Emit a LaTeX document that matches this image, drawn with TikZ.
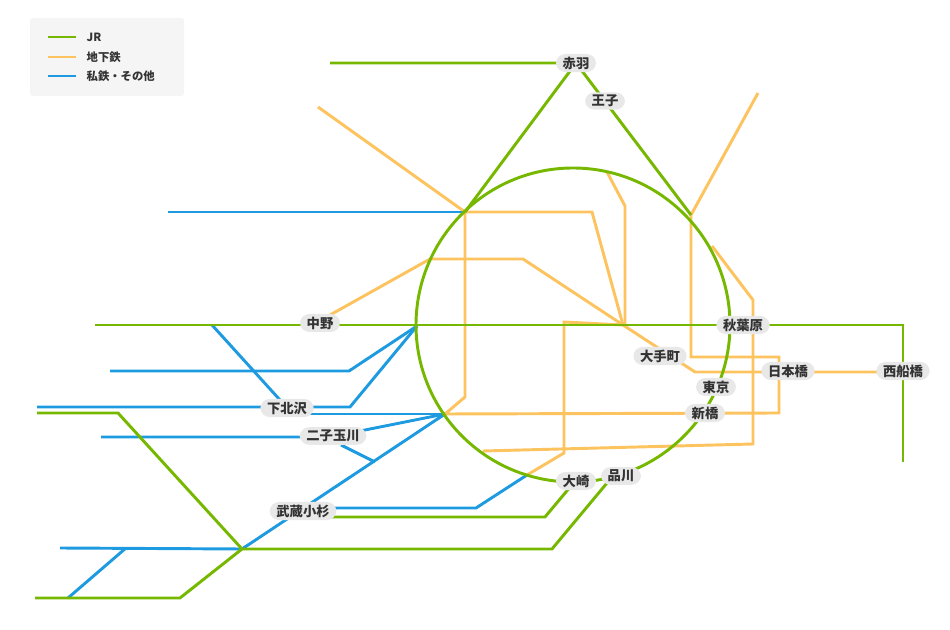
\documentclass[tikz,border=0pt]{standalone}
\usepackage{fontspec}
\setmainfont{Noto Sans CJK JP}
\definecolor{jrgreen}{RGB}{118,184,0}
\definecolor{subway}{RGB}{252,195,95}
\definecolor{private}{RGB}{30,155,224}
\definecolor{legendbg}{RGB}{245,245,245}
\definecolor{tagbg}{RGB}{232,232,232}
\tikzstyle{jrline}=[draw=jrgreen,line width=2.2pt]
\tikzstyle{subline}=[draw=subway,line width=2.2pt,line join=miter]
\tikzstyle{pvline}=[draw=private,line width=2.2pt]
\tikzstyle{station}=[fill=tagbg,rounded corners=7pt,inner xsep=5pt,inner ysep=2pt,font=\fontsize{10}{11}\selectfont\bfseries,text=black!80]
\tikzstyle{legendtext}=[anchor=west,font=\fontsize{8.5}{10}\selectfont\bfseries,text=black!80]

\begin{document}
\begin{tikzpicture}[x=0.75pt,y=-0.75pt]
  \useasboundingbox (0,0) rectangle (950,630);

  % legend
  \fill[legendbg,rounded corners=2pt] (30,18) rectangle (184,96);
  \draw[jrline] (48,37) -- (76,37);
  \draw[subline] (48,57) -- (76,57);
  \draw[pvline] (48,76) -- (76,76);
  \node[legendtext] (lgjr) at (82,37) {JR};
  \node[legendtext] (lgsub) at (82,57) {地下鉄};
  \node[legendtext] (lgpv) at (82,76) {私鉄・その他};

  % junctions
  \coordinate (ike) at (465,212);
  \coordinate (shin) at (417,326);
  \coordinate (shib) at (445,414);
  \coordinate (kawa) at (242,549);
  \coordinate (ota) at (623,325);
  \coordinate (ueno) at (691,215);
  \coordinate (kosugi) at (527,475);

  % subway
  \draw[subline] (318,107) -- (ike) -- (592,212) -- (ota);
  \draw[subline] (ike) -- (465,397) -- (shib) -- (779,413) -- (779,357) -- (691,357) -- (ueno) -- (758,93);
  \draw[subline] (330,315) -- (430,259) -- (523,259) -- (ota);
  \draw[subline] (607,172) -- (625,206) -- (625,325);
  \draw[subline] (ota) -- (695,372) -- (880,372);
  \draw[subline] (712,246) -- (753,300) -- (753,444) -- (483,451);
  \draw[subline] (kosugi) -- (564,453) -- (564,322) -- (ota);

  % private
  \draw[pvline] (168,212) -- (ike);
  \draw[pvline] (212,325) -- (280,400);
  \draw[pvline] (110,371) -- (349,371) -- (shin);
  \draw[pvline] (37,407) -- (350,407) -- (shin);
  \draw[pvline] (290,414) -- (shib);
  \draw[pvline] (101,437) -- (330,437) -- (shib);
  \draw[pvline] (341,445) -- (375,462);
  \draw[pvline] (kawa) -- (shib);
  \draw[pvline] (303,508) -- (476,508) -- (kosugi);
  \draw[pvline] (60,548) -- (kawa);
  \draw[pvline] (68,598) -- (126,548);

  % JR
  \draw[jrline] (573,325) circle[radius=157];
  \draw[jrline] (330,63) -- (576,63) -- (ike);
  \draw[jrline] (576,63) -- (ueno);
  \draw[jrline] (95,325) -- (903,325) -- (903,462);
  \draw[jrline] (37,413) -- (118,413) -- (kawa) -- (180,598) -- (35,598);
  \draw[jrline] (kawa) -- (552,549) -- (612,477);
  \draw[jrline] (306,517) -- (545,517) -- (576,480);

  % stations
  \node[station] (akabane) at (576,63) {赤羽};
  \node[station] (oji) at (605,101) {王子};
  \node[station] (nakano) at (320,323) {中野};
  \node[station] (akiba) at (743,325) {秋葉原};
  \node[station] (otemachi) at (660,356) {大手町};
  \node[station] (nihonbashi) at (788,371) {日本橋};
  \node[station] (nishifuna) at (903,371) {西船橋};
  \node[station] (tokyo) at (716,387) {東京};
  \node[station] (shinbashi) at (705,413) {新橋};
  \node[station] (shimokita) at (287,408) {下北沢};
  \node[station] (futako) at (333,436) {二子玉川};
  \node[station] (musashi) at (303,511) {武蔵小杉};
  \node[station] (osaki) at (576,481) {大崎};
  \node[station] (shinagawa) at (621,476) {品川};
\end{tikzpicture}
\end{document}
